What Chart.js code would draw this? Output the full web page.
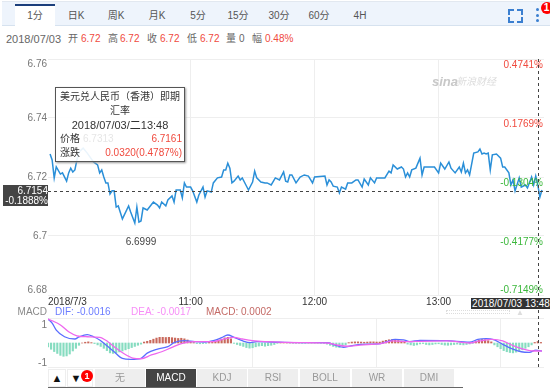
<!DOCTYPE html>
<html>
<head>
<meta charset="utf-8">
<script src="https://cdn.jsdelivr.net/npm/chart.js@4/dist/chart.umd.min.js"></script>
<style>
  html, body { margin: 0; padding: 0; background: #fff; }
  body { width: 550px; height: 388px; overflow: hidden; position: relative;
    font-family: "Liberation Sans", "Noto Sans CJK SC", sans-serif; }
  canvas { position: absolute; left: 0; }
  #chartPrice { top: 50px; }
  #chartMacd { top: 310px; }
  .txt { position: absolute; white-space: nowrap; transform: translateY(-50%); line-height: 1; }
  .box { position: absolute; }
  #tip { position: absolute; left: 55px; top: 87px; width: 128px; height: 73px;
    border: 1px solid #555; box-shadow: 1px 1px 2px #999; background: rgba(255, 255, 255, 0.9); }
</style>
</head>
<body>
<canvas id="chartPrice" width="550" height="260"></canvas>
<canvas id="chartMacd" width="550" height="60"></canvas>
<script>
// minutes since the 09:51 left edge of the axis
const SPAN = 240;
const priceMinutes = [1, 2, 3, 4, 6, 7, 9, 10, 11, 12, 13, 14, 15, 17, 19, 22, 24, 25, 26, 27, 28, 29, 30, 31, 32, 33, 34, 36, 39, 40,
  42, 43, 44, 45, 46, 48, 51, 53, 54, 55, 57, 58, 60, 61, 62, 64, 65, 66, 67, 69, 70, 72, 73, 75, 76, 77, 79, 80, 82, 84,
  85, 86, 87, 88, 89, 90, 92, 93, 94, 97, 99, 100, 101, 103, 105, 106, 108, 110, 112, 114, 115, 116, 117, 118, 120, 122, 124, 126, 128, 129,
  134, 135, 136, 137, 138, 140, 141, 142, 144, 145, 147, 149, 150, 152, 153, 155, 156, 158, 159, 163, 165, 166, 167, 169, 171, 172, 173, 174, 175, 176,
  178, 180, 181, 182, 187, 189, 190, 192, 194, 195, 197, 199, 200, 201, 202, 203, 204, 206, 208, 209, 210, 211, 212, 213, 214, 215, 217, 219, 220, 221,
  223, 224, 225, 226, 228, 229, 231, 232, 234, 235, 236, 237, 238, 239];
const prices = [6.7278, 6.7258, 6.7197, 6.7234, 6.7210, 6.7214, 6.7186, 6.7214, 6.7230, 6.7217, 6.7224, 6.7258, 6.7285, 6.7298, 6.7281, 6.7251, 6.7241, 6.7214, 6.7224, 6.72, 6.7180, 6.7180, 6.7142, 6.7153, 6.7153, 6.7098, 6.7102, 6.7058, 6.7102, 6.7081,
  6.7044, 6.7098, 6.7047, 6.7051, 6.7095, 6.7088, 6.7115, 6.7105, 6.7095, 6.7115, 6.7102, 6.7122, 6.7136, 6.7115, 6.7156, 6.7156, 6.7129, 6.7180, 6.7166, 6.7166, 6.7153, 6.7115, 6.7139, 6.7166, 6.7132, 6.7153, 6.7149, 6.7180, 6.7197, 6.72,
  6.7224, 6.7224, 6.7247, 6.7230, 6.7180, 6.7186, 6.7203, 6.7190, 6.7197, 6.7156, 6.7183, 6.7220, 6.7197, 6.7183, 6.7180, 6.7180, 6.7173, 6.7197, 6.7190, 6.7217, 6.7186, 6.7183, 6.7207, 6.7207, 6.7180, 6.72, 6.7207, 6.7203, 6.7180, 6.72,
  6.7203, 6.7173, 6.7190, 6.7183, 6.7169, 6.7166, 6.7146, 6.7166, 6.7159, 6.7180, 6.7180, 6.7190, 6.7190, 6.7166, 6.7193, 6.7173, 6.7197, 6.7180, 6.7197, 6.7197, 6.7220, 6.7214, 6.7241, 6.7227, 6.7234, 6.7227, 6.72, 6.7214, 6.72, 6.7224,
  6.7230, 6.7264, 6.7207, 6.7234, 6.7234, 6.7214, 6.7247, 6.7227, 6.7251, 6.7230, 6.7214, 6.7234, 6.7217, 6.7247, 6.7214, 6.7224, 6.7207, 6.7281, 6.7285, 6.7295, 6.7278, 6.7281, 6.7278, 6.7281, 6.7224, 6.7275, 6.7278, 6.7264, 6.7234, 6.7234,
  6.7214, 6.7173, 6.7190, 6.7153, 6.7197, 6.7166, 6.7173, 6.7163, 6.72, 6.7173, 6.7203, 6.7173, 6.7132, 6.7156];
const priceTicks = [6.76, 6.74, 6.72, 6.7, 6.68];
const priceTickLabels = ['6.76', '6.74', '6.72', '6.7', '6.68'];
const pctLabels = ['0.4741%', '0.1769%', '-0.1304%', '-0.4177%', '-0.7149%'];
const timeTicks = [69, 129, 189];
const timeLabels = ['11:00', '12:00', '13:00'];
const lowMinute = 45;
const lowPrice = 6.6999;
const crossMinute = 237;
const crossPrice = 6.7154;

const difMinutes = [0, 2, 4, 8, 13, 15, 19, 22, 25, 29, 32, 36, 40, 45, 48, 53, 58, 61, 66, 71, 76, 80, 84, 87, 90, 94, 98, 101, 112, 122,
  135, 139, 143, 146, 151, 161, 164, 168, 172, 175, 180, 193, 204, 208, 212, 216, 220, 225, 229, 233, 236, 239];
const difValues = [1.26, 1.05, 0.68, 0.33, 0.21, 0.32, 0.44, 0.33, 0.16, -0.19, -0.46, -0.81, -0.86, -0.81, -0.53, -0.32, -0.19, 0.02, 0.12, 0.07, 0.05, 0.12, 0.28, 0.42, 0.30, 0.12, 0.02, 0.07, 0.04, 0.02,
  0.02, -0.11, -0.23, -0.16, -0.07, -0.03, 0.07, 0.19, 0.17, 0.07, 0.14, 0.12, 0.04, 0.19, 0.23, 0.16, -0.07, -0.32, -0.46, -0.49, -0.37, -0.42];
const deaMinutes = [0, 2, 6, 10, 14, 19, 25, 29, 33, 37, 41, 45, 50, 55, 60, 65, 70, 74, 80, 85, 90, 94, 99, 106, 122, 135, 140, 145, 151, 161,
  167, 175, 180, 193, 204, 209, 215, 220, 225, 230, 235, 239];
const deaValues = [1.26, 1.17, 0.95, 0.59, 0.38, 0.33, 0.30, 0.07, -0.28, -0.58, -0.79, -0.83, -0.63, -0.46, -0.23, -0.02, 0.07, 0.07, 0.07, 0.21, 0.30, 0.21, 0.12, 0.07, 0.02, 0, -0.11, -0.17, -0.11, -0.03,
  0.11, 0.07, 0.09, 0.11, 0, 0.11, 0.19, 0.11, -0.14, -0.32, -0.42, -0.42];
// one bar every minute and a half
const macdBars = [-0.2, -0.33, -0.45, -0.55, -0.65, -0.7, -0.68, -0.58, -0.42, -0.28, -0.12,
  0, 0.04, 0.06, 0.02,
  -0.03, -0.1, -0.18, -0.28, -0.4, -0.52, -0.55, -0.52, -0.47, -0.42, -0.36, -0.3, -0.24, -0.18, -0.12, -0.06,
  0.05, 0.09, 0.14, 0.2, 0.26, 0.3, 0.3, 0.29, 0.3, 0.28, 0.26, 0.24, 0.25, 0.22, 0.16, 0.08,
  0.02, -0.03, -0.04, -0.03, -0.02, 0.03, 0.05,
  0.1, 0.15, 0.2, 0.27, 0.3, 0.22,
  -0.02, -0.08, -0.13, -0.18, -0.24, -0.27, -0.25, -0.2, -0.16, -0.14, -0.17, -0.14, -0.12, -0.08,
  -0.02, 0.02, 0.03, 0.03, 0.03, 0.02, 0.02, 0.01, -0.02, -0.02, 0.02, 0.02, 0.02, 0.01, -0.02, -0.02,
  -0.06, -0.12, -0.18, -0.22, -0.24, -0.18, -0.1,
  0.02, 0.05, 0.06, 0.06, 0.05, 0.04, 0.05, 0.06, 0.06, 0.05, 0.05,
  0.1, 0.14, 0.17, 0.18, 0.15, 0.13, 0.1, 0.05,
  -0.06, -0.1, -0.13, -0.1, -0.05, -0.03, -0.08, -0.1, -0.08, -0.05, -0.04, -0.08, -0.11, -0.12, -0.1, -0.08, -0.06, -0.09, -0.1, -0.08, -0.05, -0.02,
  0.08, 0.14, 0.18, 0.17, 0.12, 0.06,
  -0.1, -0.2, -0.3, -0.4, -0.46, -0.5, -0.52, -0.48, -0.44, -0.36, -0.28, -0.2,
  -0.1, 0.03, 0.08, 0.03];

const topTabs = ['1分', '日K', '周K', '月K', '5分', '15分', '30分', '60分', '4H'];
const bottomTabs = ['无', 'MACD', 'KDJ', 'RSI', 'BOLL', 'WR', 'DMI'];

const FONT = '"Liberation Sans", "Noto Sans CJK SC", sans-serif';
const GRID = '#eeeeee';
const UP = '#f04a3e';
const DOWN = '#3cb83c';

function addBox(x, y, w, h, css) {
  const el = document.createElement('div');
  el.className = 'box';
  el.style.cssText = `left:${x}px;top:${y}px;width:${w}px;height:${h}px;${css || ''}`;
  document.body.appendChild(el);
  return el;
}

function addText(text, x, y, color, size, align, parent) {
  const el = document.createElement('div');
  el.className = 'txt';
  el.textContent = text;
  el.style.color = color;
  el.style.fontSize = size + 'px';
  el.style.top = y + 'px';
  if (align === 'center') {
    el.style.left = x + 'px';
    el.style.transform = 'translate(-50%, -50%)';
  } else if (align === 'right') {
    el.style.right = (parent ? parent.clientWidth - x : 550 - x) + 'px';
  } else {
    el.style.left = x + 'px';
  }
  (parent || document.body).appendChild(el);
  return el;
}

function crosshair(ctx, x1, y1, x2, y2) {
  ctx.save();
  ctx.strokeStyle = '#444';
  ctx.lineWidth = 1;
  ctx.setLineDash([3, 3]);
  ctx.beginPath();
  ctx.moveTo(x1, y1);
  ctx.lineTo(x2, y2);
  ctx.stroke();
  ctx.restore();
}

const priceLabels = {
  id: 'priceLabels',
  afterDraw(chart) {
    const { ctx, scales } = chart;
    const { x, y } = scales;
    ctx.save();
    ctx.textBaseline = 'middle';
    ctx.font = `10px ${FONT}`;
    priceTicks.forEach((tick, i) => {
      const py = y.getPixelForValue(tick);
      const shift = i === 0 ? 5 : i === priceTicks.length - 1 ? -5 : 0;
      ctx.fillStyle = '#777';
      ctx.textAlign = 'right';
      ctx.fillText(priceTickLabels[i], 47, py + shift);
      ctx.fillStyle = i < 2 ? UP : DOWN;
      ctx.fillText(pctLabels[i], 543, py + (i === priceTicks.length - 1 ? -5 : 6));
    });
    ctx.fillStyle = '#333';
    ctx.textAlign = 'left';
    ctx.fillText('2018/7/3', 48, 252.5);
    ctx.textAlign = 'center';
    timeTicks.forEach((tick, i) => ctx.fillText(timeLabels[i], x.getPixelForValue(tick), 252.5));
    ctx.fillStyle = '#444';
    ctx.fillText(lowPrice.toFixed(4), x.getPixelForValue(lowMinute), y.getPixelForValue(lowPrice) + 6);
    ctx.restore();
    const cy = Math.round(y.getPixelForValue(crossPrice)) + 0.5;
    const cx = Math.round(x.getPixelForValue(crossMinute)) + 0.5;
    crosshair(ctx, 48, cy, 550, cy);
    crosshair(ctx, cx, 9, cx, 260);
  },
};

const macdLabels = {
  id: 'macdLabels',
  afterDraw(chart) {
    const { ctx, scales } = chart;
    ctx.save();
    ctx.font = `10px ${FONT}`;
    ctx.fillStyle = '#777';
    ctx.textAlign = 'right';
    ctx.textBaseline = 'middle';
    [1, -1].forEach((v) => ctx.fillText(String(v), 47, scales.y.getPixelForValue(v) + 1));
    ctx.restore();
    const cx = Math.round(scales.x.getPixelForValue(crossMinute)) + 0.5;
    crosshair(ctx, cx, 0, cx, 58);
  },
};

function timeAxis() {
  return {
    type: 'linear',
    min: 0,
    max: SPAN,
    offset: false,
    afterBuildTicks: (axis) => { axis.ticks = timeTicks.map((value) => ({ value })); },
    ticks: { display: false },
    grid: { color: GRID, drawTicks: false },
    border: { display: false },
  };
}

new Chart(document.getElementById('chartPrice').getContext('2d'), {
  type: 'line',
  data: {
    datasets: [{
      data: priceMinutes.map((m, i) => ({ x: m, y: prices[i] })),
      borderColor: '#2a8fd8',
      borderWidth: 1.5,
      pointRadius: 0,
      tension: 0,
    }],
  },
  options: {
    responsive: false,
    animation: false,
    layout: { padding: { left: 48, right: 6, top: 9, bottom: 15 } },
    plugins: { legend: { display: false }, tooltip: { enabled: false } },
    scales: {
      x: timeAxis(),
      y: {
        min: 6.68,
        max: 6.76,
        afterBuildTicks: (axis) => { axis.ticks = priceTicks.map((value) => ({ value })); },
        ticks: { display: false },
        grid: { color: GRID, drawTicks: false },
        border: { display: false },
      },
    },
  },
  plugins: [priceLabels],
});

new Chart(document.getElementById('chartMacd').getContext('2d'), {
  type: 'bar',
  data: {
    datasets: [
      {
        type: 'line',
        label: 'DEA',
        data: deaMinutes.map((m, i) => ({ x: m, y: deaValues[i] })),
        borderColor: '#ee66ee',
        borderWidth: 1.3,
        pointRadius: 0,
        cubicInterpolationMode: 'monotone',
        order: 1,
      },
      {
        type: 'line',
        label: 'DIF',
        data: difMinutes.map((m, i) => ({ x: m, y: difValues[i] })),
        borderColor: '#5a6dff',
        borderWidth: 1.3,
        pointRadius: 0,
        cubicInterpolationMode: 'monotone',
        order: 2,
      },
      {
        label: 'MACD',
        data: macdBars.map((v, i) => ({ x: i * 1.5, y: v })),
        backgroundColor: macdBars.map((v) => (v < 0 ? '#86dcc0' : '#c9695c')),
        barThickness: 1.5,
        order: 3,
      },
    ],
  },
  options: {
    responsive: false,
    animation: false,
    layout: { padding: { left: 48, right: 6, top: 8, bottom: 3 } },
    plugins: { legend: { display: false }, tooltip: { enabled: false } },
    scales: {
      x: timeAxis(),
      y: {
        min: -1.263,
        max: 1.316,
        afterBuildTicks: (axis) => { axis.ticks = [{ value: -1.263 }, { value: 1.316 }]; },
        ticks: { display: false },
        grid: { color: GRID, drawTicks: false },
        border: { display: false },
      },
    },
  },
  plugins: [macdLabels],
});

// top tab bar
addBox(2, 1, 548, 25, 'background:#eef4fc;border-top:1px solid #e2e8f0;border-bottom:1px solid #d6e2ef;box-sizing:border-box;');
addBox(15, 4, 40, 23, 'background:#fff;border-top:2px solid #1c3f7c;box-sizing:border-box;');
const topTabX = [35, 76, 116, 157, 198, 238, 279, 319, 360];
topTabs.forEach((label, i) => addText(label, topTabX[i], 16, '#555', 10, 'center'));
addBox(508, 9, 4, 4, 'border-left:2px solid #3b7fd0;border-top:2px solid #3b7fd0;');
addBox(517, 9, 4, 4, 'border-right:2px solid #3b7fd0;border-top:2px solid #3b7fd0;');
addBox(508, 17, 4, 4, 'border-left:2px solid #3b7fd0;border-bottom:2px solid #3b7fd0;');
addBox(517, 17, 4, 4, 'border-right:2px solid #3b7fd0;border-bottom:2px solid #3b7fd0;');
[8, 14, 19].forEach((y) => addBox(536, y, 3, 3, 'background:#3b7fd0;border-radius:50%;'));
addBox(541, 2, 12, 12, 'background:#f00;border-radius:50%;');
addText('1', 546.5, 8, '#fff', 10, 'center').style.fontWeight = 'bold';

// quote row
addText('2018/07/03', 6, 39, '#666', 11, 'left');
const quoteLabels = ['开', '高', '收', '低'];
const quoteLabelX = [68, 108, 147, 187];
const quoteValueX = [81, 120, 160, 200];
quoteLabels.forEach((label, i) => {
  addText(label, quoteLabelX[i], 39, '#666', 10, 'left');
  addText('6.72', quoteValueX[i], 39, UP, 10, 'left');
});
addText('量', 226, 39, '#666', 10, 'left');
addText('0', 239, 39, '#666', 10, 'left');
addText('幅', 252, 39, '#666', 10, 'left');
addText('0.48%', 265, 39, UP, 10, 'left');

// watermark
const sina = addText('sina', 432, 81, '#c8c8c8', 13, 'left');
sina.style.fontStyle = 'italic';
sina.style.fontWeight = 'bold';
addText('新浪财经', 456, 82, '#dcdcdc', 10, 'left').style.fontStyle = 'italic';

// hover read-outs
const crossBox = addBox(3, 185, 45, 21, 'background:#444;');
addText('6.7154', 45, 5.5, '#fff', 10, 'right', crossBox);
addText('-0.1888%', 45, 15.5, '#fff', 10, 'right', crossBox);
const dateBox = addBox(471, 298, 79, 11, 'background:#333;');
addText('2018/07/03 13:48', 40, 5.5, '#fff', 10, 'center', dateBox);

const tip = document.createElement('div');
tip.id = 'tip';
document.body.appendChild(tip);
addText('美元兑人民币（香港）即期', 64, 9, '#333', 10, 'center', tip);
addText('汇率', 64, 23, '#333', 10, 'center', tip);
addText('2018/07/03/二13:48', 64, 37, '#333', 11, 'center', tip);
addText('价格', 4, 51, '#333', 10, 'left', tip);
addText('6.7313', 27, 51, '#e6e6e6', 10, 'left', tip);
addText('6.7161', 126, 51, UP, 10, 'right', tip);
addText('涨跌', 4, 65, '#333', 10, 'left', tip);
addText('0.0320(0.4787%)', 126, 65, UP, 10, 'right', tip);

// MACD header
addText('MACD', 47, 312, '#888', 10, 'right');
addText('DIF: -0.0016', 55, 312, '#6b7cff', 10, 'left');
addText('DEA: -0.0017', 131, 312, '#f78ef7', 10, 'left');
addText('MACD: 0.0002', 206, 312, '#c46a66', 10, 'left');

// faint scroll hints under the time axis
addBox(446, 310, 64, 4, 'border:1px dotted #ddd;box-sizing:border-box;');
addText('▲', 520, 313, '#ddd', 8, 'center');

// bottom tabs
addText('▲', 57, 378, '#111', 11, 'center');
addText('▼', 76, 378, '#111', 11, 'center');
addBox(48, 369, 18, 18, 'border:1px solid #eee;box-sizing:border-box;');
addBox(67, 369, 26, 18, 'border:1px solid #eee;box-sizing:border-box;');
addBox(81, 370, 12, 12, 'background:#f00;border-radius:50%;');
addText('1', 87, 376, '#fff', 9, 'center').style.fontWeight = 'bold';
const bottomTabX = [95, 146, 197, 248, 300, 352, 404];
bottomTabs.forEach((label, i) => {
  const active = label === 'MACD';
  addBox(bottomTabX[i], 369, 50, 18, `background:${active ? '#444' : '#eee'};`);
  addText(label, bottomTabX[i] + 25, 378, active ? '#fff' : '#999', 10, 'center');
});
addBox(48, 387, 415, 1, 'background:#666;');
</script>
</body>
</html>
